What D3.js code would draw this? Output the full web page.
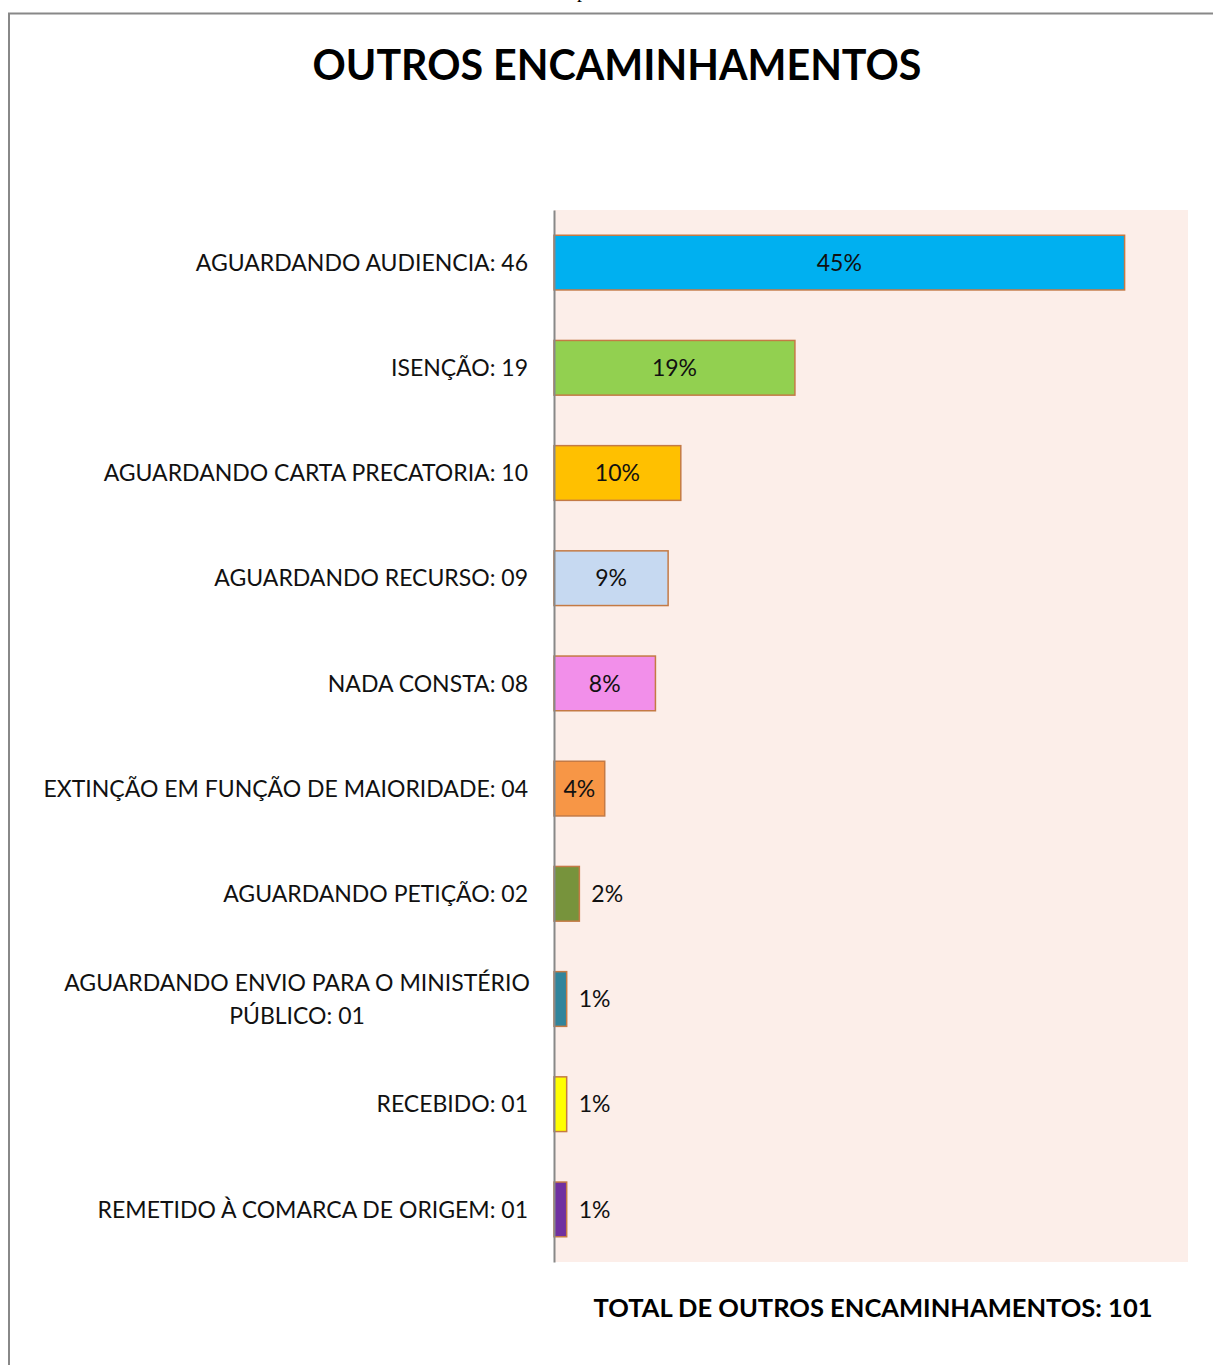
<!DOCTYPE html>
<html><head><meta charset="utf-8">
<script src="https://cdn.jsdelivr.net/npm/d3@7"></script>
<style>html,body{margin:0;padding:0;background:#fff;}svg{display:block;}</style>
</head><body>
<script>
const categories = [
  ["AGUARDANDO AUDIENCIA: 46"],
  ["ISENÇÃO: 19"],
  ["AGUARDANDO CARTA PRECATORIA: 10"],
  ["AGUARDANDO RECURSO: 09"],
  ["NADA CONSTA: 08"],
  ["EXTINÇÃO EM FUNÇÃO DE MAIORIDADE: 04"],
  ["AGUARDANDO PETIÇÃO: 02"],
  ["AGUARDANDO ENVIO PARA O MINISTÉRIO", "PÚBLICO: 01"],
  ["RECEBIDO: 01"],
  ["REMETIDO À COMARCA DE ORIGEM: 01"]
];
const percents = [45, 19, 10, 9, 8, 4, 2, 1, 1, 1];
const colors = ["#00B0F0", "#92D050", "#FFC000", "#C6D9F1", "#F28FEA", "#F79646", "#77933C", "#31849B", "#FFFF00", "#7030A0"];
const title = "OUTROS ENCAMINHAMENTOS";
const totalLabel = "TOTAL DE OUTROS ENCAMINHAMENTOS: 101";

const W = 1213, H = 1365;
const font = "Lato, 'Open Sans', sans-serif";
const svg = d3.select("body").append("svg").attr("width", W).attr("height", H);

// frame
svg.append("path").attr("d", `M9,${H+5} V13.5 H${W+5}`).attr("fill","none").attr("stroke","#888").attr("stroke-width",2);
svg.append("text").attr("x",577).attr("y",-3).attr("font-family","'Liberation Serif', serif").attr("font-size",20).text("p");

const plot = {x0: 554, x1: 1188, y0: 210, y1: 1262};
svg.append("rect").attr("x", plot.x0).attr("y", plot.y0).attr("width", plot.x1-plot.x0).attr("height", plot.y1-plot.y0).attr("fill", "#FCEEE9");

const x = d3.scaleLinear().domain([0, 50]).range([plot.x0, plot.x1]);
const y = d3.scaleBand().domain(d3.range(percents.length)).range([plot.y0, plot.y1]).paddingInner(0.48).paddingOuter(0.24);

const g = svg.append("g");
g.selectAll("rect.bar").data(percents).join("rect").attr("class","bar")
  .attr("x", x(0)).attr("y", (d,i)=>y(i)).attr("width", d=>x(d)-x(0)).attr("height", y.bandwidth())
  .attr("fill", (d,i)=>colors[i]).attr("stroke", "#C47A45").attr("stroke-width", 1.5);

// axis
const axis = svg.append("g").attr("transform", `translate(${plot.x0},0)`).call(d3.axisLeft(y).tickSize(0).tickFormat(""));
axis.select(".domain").attr("stroke","#888").attr("stroke-width",2);

// percent labels
g.selectAll("text.val").data(percents).join("text").attr("class","val")
  .attr("x", d => d >= 4 ? (x(0)+x(d))/2 : x(d) + 12)
  .attr("y", (d,i)=>y(i)+y.bandwidth()/2).attr("dy","0.36em")
  .attr("text-anchor", d => d >= 4 ? "middle" : "start")
  .attr("font-family", font).attr("font-size", 23).attr("fill","#111")
  .text(d => d + "%");

// category labels
const lbl = g.selectAll("text.cat").data(categories).join("text").attr("class","cat")
  .attr("font-family", font).attr("font-size", 23).attr("fill","#111")
  .attr("text-anchor", d => d.length > 1 ? "middle" : "end")
  .attr("transform", (d,i)=>`translate(${d.length>1 ? 297 : 528},${y(i)+y.bandwidth()/2})`);
lbl.selectAll("tspan").data(d=>d.map((t,k)=>({t,k,n:d.length}))).join("tspan")
  .attr("x",0).attr("y", d => (d.k - (d.n-1)/2)*33).attr("dy","0.36em").text(d=>d.t);

svg.append("text").attr("x", 617).attr("y", 80).attr("text-anchor","middle")
  .attr("font-family", font).attr("font-weight","bold").attr("font-size", 41.2).attr("fill","#000").text(title);
svg.append("text").attr("x", 873).attr("y", 1317).attr("text-anchor","middle")
  .attr("font-family", font).attr("font-weight","bold").attr("font-size", 25.5).attr("fill","#000").text(totalLabel);
</script>
</body></html>
